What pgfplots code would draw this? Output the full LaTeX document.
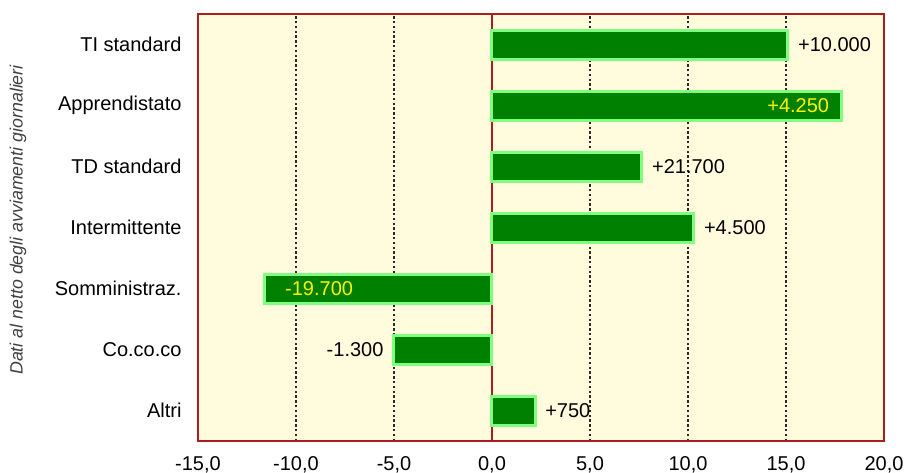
\documentclass[border=0pt]{standalone}
\usepackage{fontspec}
\setmainfont{Liberation Sans}
\usepackage{pgfplots}
\pgfplotsset{compat=1.18}
\usepackage{pgfplotstable}

\definecolor{barfill}{RGB}{0,128,0}
\definecolor{barline}{RGB}{128,255,128}
\definecolor{panel}{RGB}{255,251,220}
\definecolor{frame}{RGB}{170,30,30}
\definecolor{labgray}{RGB}{64,64,64}
\definecolor{gridgray}{RGB}{40,40,40}

% row position (6 = top), bar value, printed label
\pgfplotstableread{
pos v lab
6 15.10 +10.000
4 7.65 +21.700
3 10.30 +4.500
0 2.20 +750
}\outright
\pgfplotstableread{
pos v lab
5 17.85 +4.250
}\inright
\pgfplotstableread{
pos v lab
2 -11.60 -19.700
}\inleft
\pgfplotstableread{
pos v lab
1 -5.00 -1.300
}\outleft

\begin{document}
\begin{tikzpicture}[x=1pt,y=1pt]
\useasboundingbox (0,0) rectangle (453,236);
\begin{axis}[
  at={(99pt,15.5pt)}, anchor=south west,
  scale only axis, width=343pt, height=213.5pt,
  xmin=-15, xmax=20, ymin=-0.5, ymax=6.5,
  xbar, bar width=14.5pt, bar shift=0pt,
  axis background/.style={fill=panel},
  axis line style={frame, line width=0.7pt},
  xtick={-15,-10,...,20},
  ytick={0,...,6},
  yticklabels={Altri,Co.co.co,Somministraz.,Intermittente,TD standard,Apprendistato,TI standard},
  major tick length=0pt,
  xmajorgrids, grid style={dash pattern=on 1.2pt off 1.2pt, gridgray, line width=0.6pt},
  extra x ticks={0}, extra x tick labels={},
  extra x tick style={grid style={solid, frame, line width=0.7pt}},
  /pgf/number format/.cd, fixed, fixed zerofill, precision=1, use comma, assume math mode=true, /pgfplots/.cd,
  tick label style={font=\fontsize{10}{12}\selectfont, black},
  yticklabel style={xshift=-4.7pt},
  xticklabel style={yshift=-4pt},
  ylabel={Dati al netto degli avviamenti giornalieri},
  ylabel style={font=\fontsize{8.9}{10}\selectfont\itshape, labgray,
    at={(axis description cs:-0.2624,0.5176)}, anchor=center},
  every axis plot/.append style={fill=barfill, draw=barline, line width=1.5pt},
  nodes near coords, point meta=explicit symbolic,
  nodes near coords style={font=\fontsize{10}{12}\selectfont},
]
\addplot[every node near coord/.append style={anchor=west, black, xshift=1pt}]
  table[x=v, y=pos, meta=lab] {\outright};
\addplot[every node near coord/.append style={anchor=east, yellow, xshift=-2.3pt}]
  table[x=v, y=pos, meta=lab] {\inright};
\addplot[every node near coord/.append style={anchor=west, yellow, xshift=6.2pt}]
  table[x=v, y=pos, meta=lab] {\inleft};
\addplot[every node near coord/.append style={anchor=east, black, xshift=-1.2pt}]
  table[x=v, y=pos, meta=lab] {\outleft};
\end{axis}
\end{tikzpicture}
\end{document}
